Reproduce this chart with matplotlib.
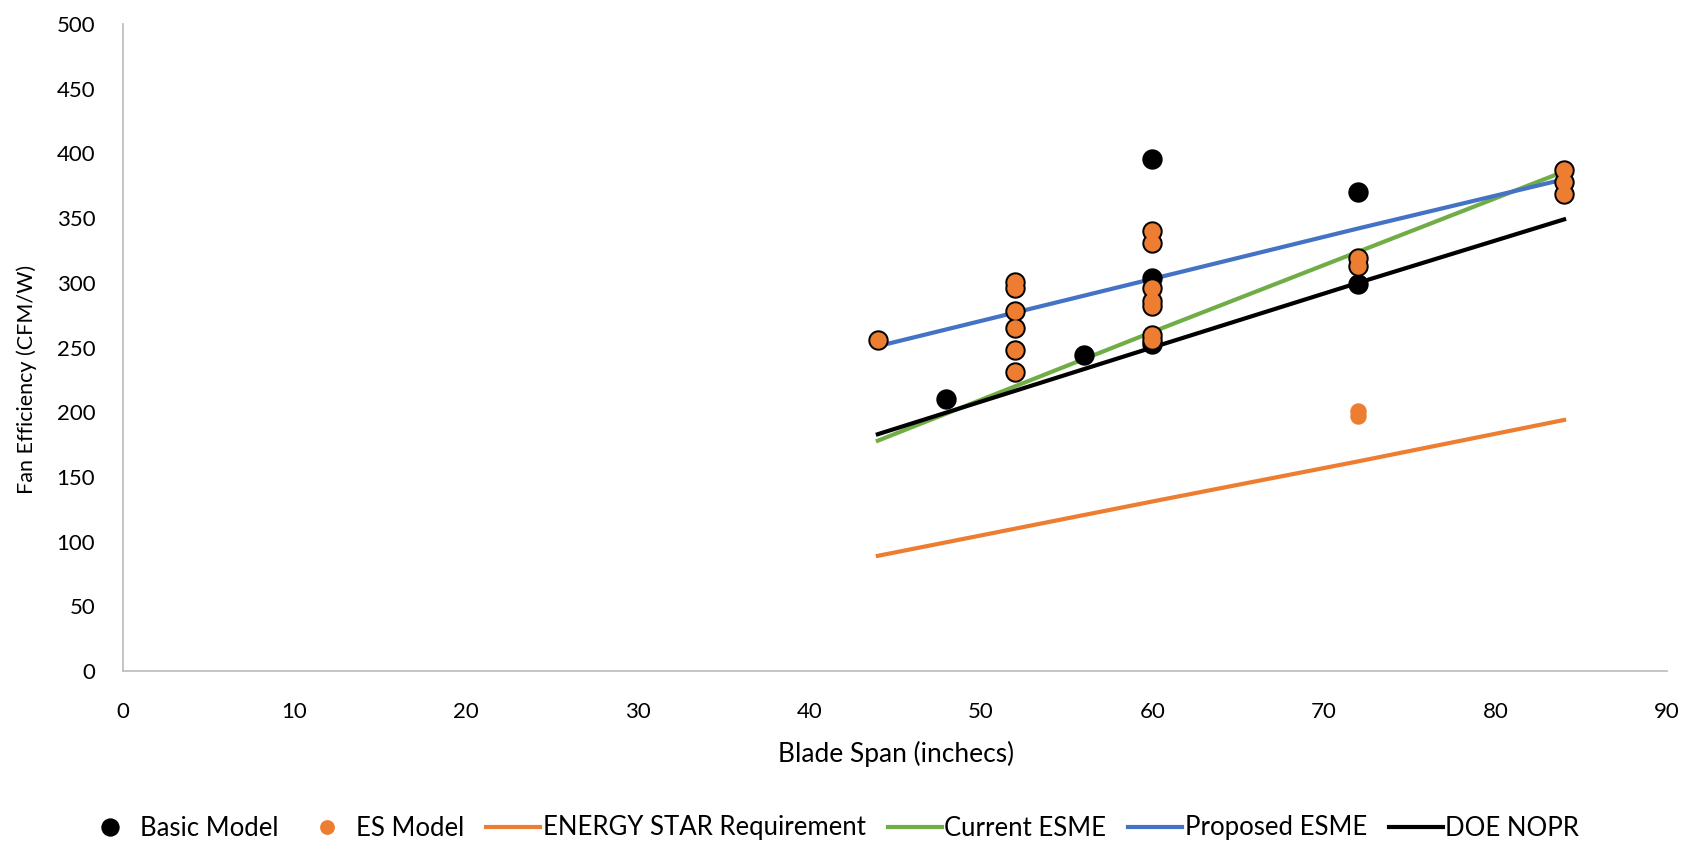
import matplotlib
matplotlib.use("Agg")
import matplotlib.pyplot as plt

plt.rcParams['font.family'] = ['Lato', 'DejaVu Sans']

# Basic models (black) -- includes the positions of the ES models that are also basic models
basic_x = [48, 56, 60, 60, 60, 72, 72,
           44, 52, 52, 52, 52, 52, 52,
           60, 60, 60, 60, 60, 60, 60,
           72, 72, 84, 84, 84]
basic_y = [210, 244, 396, 304, 253, 370, 299,
           256, 301, 296, 278, 265, 248, 231,
           340, 331, 296, 286, 282, 260, 256,
           319, 313, 387, 378, 369]

# ENERGY STAR models (orange)
es_x = [44, 52, 52, 52, 52, 52, 52,
        60, 60, 60, 60, 60, 60, 60,
        72, 72, 72, 72, 84, 84, 84]
es_y = [256, 301, 296, 278, 265, 248, 231,
        340, 331, 296, 286, 282, 260, 256,
        319, 313, 201, 197, 387, 378, 369]

line_x = [44, 60, 72, 84]
energy_star_req = [89, 131, 162, 194]
current_esme = [178, 262, 324, 386]
proposed_esme = [251, 303, 342, 380]
doe_nopr = [183, 250, 300, 349]

W, H = 1688, 842
fig = plt.figure(figsize=(W / 100, H / 100), dpi=100)
ax = fig.add_axes([123 / W, 1 - 671 / H, (1667 - 123) / W, (671 - 24) / H])

orange = '#ED7D31'
green = '#70AD47'
blue = '#4472C4'

ax.plot(line_x, energy_star_req, color=orange, lw=3, label='ENERGY STAR Requirement', zorder=2)
ax.plot(line_x, current_esme, color=green, lw=3, label='Current ESME', zorder=2)
ax.plot(line_x, proposed_esme, color=blue, lw=3, label='Proposed ESME', zorder=2)
ax.plot(line_x, doe_nopr, color='black', lw=3, label='DOE NOPR', zorder=2)

ax.scatter(basic_x, basic_y, s=215, color='black', linewidths=0, label='Basic Model', zorder=3)
ax.scatter(es_x, es_y, s=140, color=orange, linewidths=0, label='ES Model', zorder=4)

ax.set_xlim(0, 90)
ax.set_ylim(0, 500)
ax.set_xticks(range(0, 91, 10))
ax.set_yticks(range(0, 501, 50))

for s in ['top', 'right']:
    ax.spines[s].set_visible(False)
for s in ['left', 'bottom']:
    ax.spines[s].set_color('#BFBFBF')
    ax.spines[s].set_linewidth(1.3)
ax.tick_params(length=0, labelsize=16, colors='#000000')
ax.tick_params(axis='y', pad=20)
ax.tick_params(axis='x', pad=22)

ax.set_xlabel('Blade Span (inchecs)', fontsize=19, va='center')
ax.xaxis.set_label_coords(896 / W, 1 - 754 / H, transform=fig.transFigure)
ax.set_ylabel('Fan Efficiency (CFM/W)', fontsize=15.5, va='center')
ax.yaxis.set_label_coords(27 / W, 1 - 379 / H, transform=fig.transFigure)

handles, labels = ax.get_legend_handles_labels()
order = [4, 5, 0, 1, 2, 3]
leg = fig.legend([handles[i] for i in order], [labels[i] for i in order],
                 loc='center left', bbox_to_anchor=(83 / W, 1 - 828 / H), ncol=6,
                 frameon=False, fontsize=18.5, handlelength=2.1, handletextpad=0.1,
                 columnspacing=0.85, markerscale=0.9, borderpad=0, borderaxespad=0,
                 scatterpoints=1, scatteryoffsets=[0.5])

fig.savefig('out.png', dpi=100)
